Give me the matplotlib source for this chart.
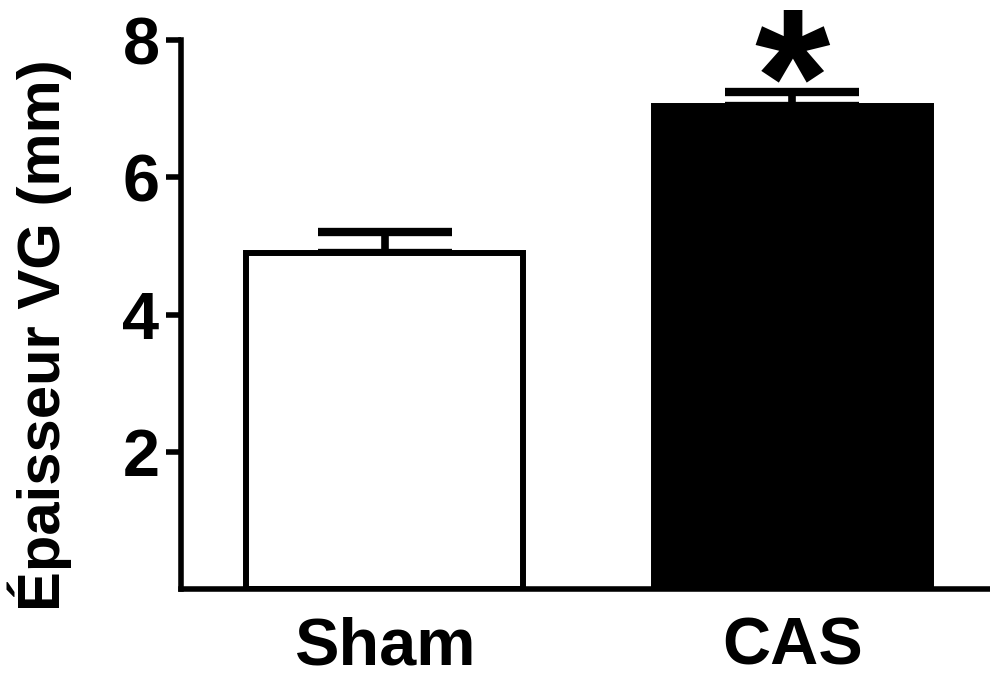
import matplotlib.pyplot as plt
import numpy as np
from matplotlib.textpath import TextPath
from matplotlib.font_manager import FontProperties

plt.rcParams['font.family'] = ['Liberation Sans', 'DejaVu Sans']
plt.rcParams['font.weight'] = 'bold'

# groups and LV wall thickness (mm), mean and SEM
groups = ['Sham', 'CAS']
means = [4.9, 7.04]
sems = [0.31, 0.2]
colors = ['white', 'black']
stars = ['', '*']

DPI = 100
fig = plt.figure(figsize=(9.9, 6.79), dpi=DPI)
ax = fig.add_axes([0.1828, 0.1325, 0.8172, 0.8085])

x = np.arange(len(groups))
ax.bar(x, means, width=0.68, color=colors, edgecolor='black', linewidth=4.3, zorder=2)
ax.errorbar(x, means, yerr=[np.zeros(len(sems)), sems], fmt='none', ecolor='black',
            elinewidth=5.5, capsize=48, capthick=6, zorder=1)

# significance star: size the glyph by its ink height, sit it just above the cap
fp = FontProperties(family='Liberation Sans', weight='bold')
ext = TextPath((0, 0), '*', size=1, prop=fp).get_extents()
star_pt = 72 * 72 / DPI / ext.height
for xi, m, s, st in zip(x, means, sems, stars):
    if st:
        ax.annotate(st, xy=(xi, m + s), xytext=(0, 7 - ext.y0 * star_pt),
                    textcoords='offset points', ha='center', va='baseline',
                    fontsize=star_pt, fontweight='bold', annotation_clip=False)

ax.set_xlim(-0.5, 1.485)
ax.set_ylim(0, 8)
ax.set_yticks([2, 4, 6, 8])
ax.set_xticks(x)
ax.set_xticklabels(groups)
ax.set_ylabel('Épaisseur VG (mm)', fontsize=43, fontweight='bold')
ax.yaxis.set_label_coords(-0.135, 0.462)

for side in ['top', 'right']:
    ax.spines[side].set_visible(False)
for side in ['left', 'bottom']:
    ax.spines[side].set_linewidth(4)

ax.tick_params(axis='y', length=11, width=4, pad=4.5, labelsize=48)
ax.tick_params(axis='x', length=0, pad=20, labelsize=48)

fig.savefig('out.png', dpi=DPI)
